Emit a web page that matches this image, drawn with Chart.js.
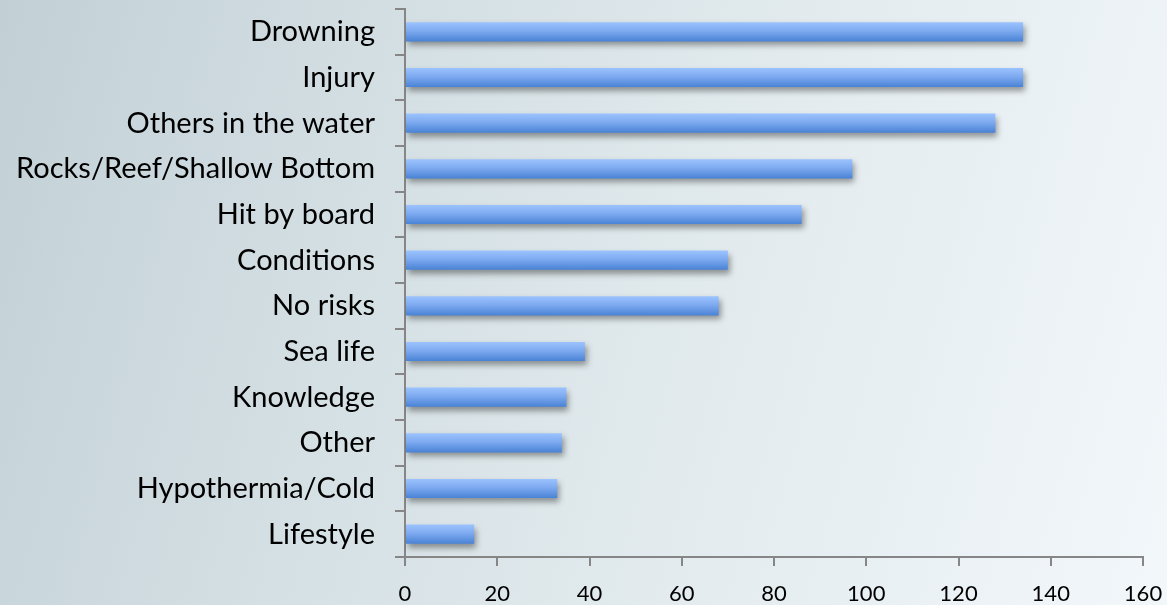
<!DOCTYPE html>
<html>
<head>
<meta charset="utf-8">
<script src="https://cdn.jsdelivr.net/npm/chart.js@4.4.1/dist/chart.umd.min.js"></script>
<style>
  html, body { margin: 0; padding: 0; }
  body {
    width: 1167px; height: 605px; overflow: hidden;
    background: linear-gradient(105deg, #c2d0d6 0%, #d6e1e5 35%, #e4ecef 65%, #f2f7fa 100%);
  }
  #wrap { position: relative; width: 1167px; height: 605px; }
</style>
</head>
<body>
<div id="wrap"><canvas id="chart" width="1167" height="605"></canvas></div>
<script>
// Chart data
const categories = ['Drowning', 'Injury', 'Others in the water', 'Rocks/Reef/Shallow Bottom', 'Hit by board',
  'Conditions', 'No risks', 'Sea life', 'Knowledge', 'Other', 'Hypothermia/Cold', 'Lifestyle'];
const counts = [134, 134, 128, 97, 86, 70, 68, 39, 35, 34, 33, 15];
const xTicks = [0, 20, 40, 60, 80, 100, 120, 140, 160];

const axisColor = '#868686';

// Soft drop shadow under the bars
const barShadow = {
  id: 'barShadow',
  beforeDatasetsDraw(chart) {
    const ctx = chart.ctx;
    ctx.save();
    ctx.shadowColor = 'rgba(0,0,0,0.38)';
    ctx.shadowBlur = 6;
    ctx.shadowOffsetX = 2;
    ctx.shadowOffsetY = 4;
  },
  afterDatasetsDraw(chart) {
    chart.ctx.restore();
  }
};

// Vertical gradient per bar, based on where the y scale puts it
function barFill(context) {
  const chart = context.chart;
  if (!chart.chartArea) return '#6fa3f0';
  const y = chart.scales.y;
  const centre = y.getPixelForValue(context.dataIndex);
  const half = 10;
  const g = chart.ctx.createLinearGradient(0, centre - half, 0, centre + half);
  g.addColorStop(0, '#9dc4ff');
  g.addColorStop(0.45, '#7eaaf0');
  g.addColorStop(1, '#4781d4');
  return g;
}

new Chart(document.getElementById('chart'), {
  type: 'bar',
  data: {
    labels: categories,
    datasets: [{
      data: counts,
      backgroundColor: barFill,
      borderWidth: 0,
      categoryPercentage: 1,
      barPercentage: 0.42
    }]
  },
  options: {
    indexAxis: 'y',
    responsive: false,
    animation: false,
    layout: { padding: { top: 9, right: 24, left: 0, bottom: 0 } },
    plugins: { legend: { display: false }, tooltip: { enabled: false } },
    scales: {
      x: {
        min: 0, max: 160,
        afterBuildTicks(scale) { scale.ticks = xTicks.map(v => ({ value: v })); },
        grid: { drawOnChartArea: false, color: axisColor, lineWidth: 2, tickLength: 9 },
        border: { color: axisColor, width: 2 },
        ticks: { color: '#000', font: { family: 'Lato', size: 22 }, padding: 15, maxRotation: 0 },
        afterFit(scale) {
          scale.height = 48;
          scale.paddingLeft = 0;
          scale.paddingRight = 0;
        }
      },
      y: {
        grid: { drawOnChartArea: false, color: axisColor, lineWidth: 2, tickLength: 10, offset: true },
        border: { color: axisColor, width: 2 },
        ticks: { color: '#000', font: { family: 'Lato', size: 29 }, padding: 20 },
        afterFit(scale) {
          scale.width = 405;
          scale.paddingTop = 0;
          scale.paddingBottom = 0;
        }
      }
    }
  },
  plugins: [barShadow]
});
</script>
</body>
</html>
